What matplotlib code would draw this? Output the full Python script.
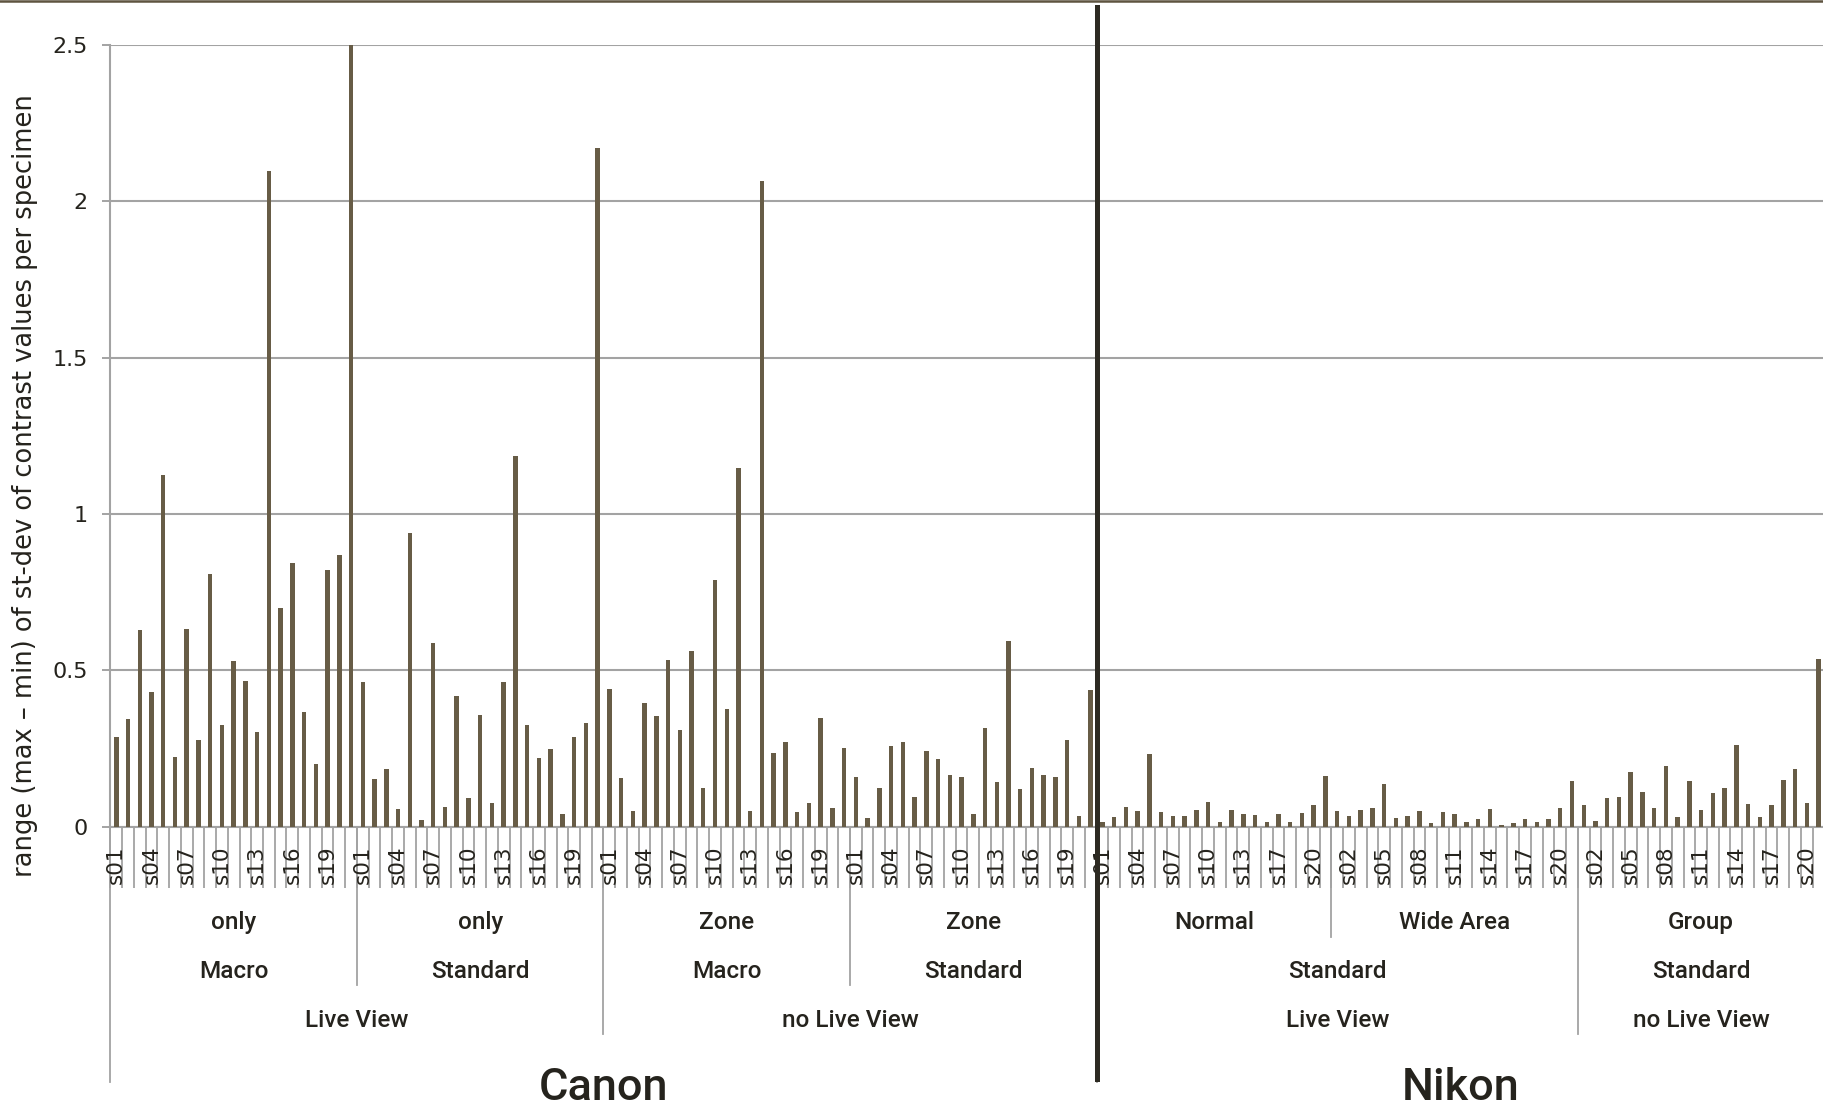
import matplotlib
matplotlib.use("Agg")
import matplotlib.pyplot as plt
from matplotlib.transforms import blended_transform_factory
from matplotlib.lines import Line2D
import numpy as np

# ---- data: range of st-dev of contrast values, per specimen ----
canon_lv_macro = [0.285, 0.344, 0.629, 0.432, 1.123, 0.221, 0.631, 0.276, 0.807, 0.325, 0.529,
                  0.467, 0.303, 2.097, 0.699, 0.844, 0.368, 0.199, 0.822, 0.869, 2.5]
canon_lv_standard = [0.463, 0.151, 0.184, 0.055, 0.939, 0.022, 0.588, 0.062, 0.419, 0.092, 0.357,
                     0.075, 0.463, 1.184, 0.325, 0.219, 0.248, 0.040, 0.287, 0.331, 2.171]
canon_zone_macro = [0.441, 0.156, 0.051, 0.395, 0.355, 0.533, 0.309, 0.561, 0.123, 0.787, 0.377,
                    1.147, 0.050, 2.066, 0.235, 0.272, 0.046, 0.075, 0.346, 0.059, 0.250]
canon_zone_standard = [0.158, 0.028, 0.125, 0.259, 0.270, 0.096, 0.243, 0.217, 0.165, 0.158, 0.039,
                       0.314, 0.142, 0.594, 0.119, 0.188, 0.165, 0.160, 0.278, 0.033, 0.438]
nikon_normal = [0.014, 0.030, 0.063, 0.050, 0.232, 0.048, 0.034, 0.034, 0.054, 0.079,
                0.014, 0.054, 0.039, 0.037, 0.014, 0.041, 0.015, 0.044, 0.069, 0.161]
nikon_wide = [0.049, 0.034, 0.052, 0.060, 0.135, 0.027, 0.034, 0.050, 0.012, 0.046, 0.039,
              0.014, 0.025, 0.055, 0.006, 0.011, 0.023, 0.015, 0.023, 0.059, 0.145]
nikon_group = [0.070, 0.019, 0.091, 0.094, 0.176, 0.111, 0.058, 0.193, 0.030, 0.145, 0.052,
               0.109, 0.122, 0.262, 0.071, 0.031, 0.070, 0.150, 0.183, 0.076, 0.535]

all_spec = ["s%02d" % i for i in range(1, 22)]
normal_spec = [s for s in all_spec if s != "s15"]

# (values, specimen names, brand, live view, mode, area)
GROUPS = [
    (canon_lv_macro, all_spec, "Canon", "Live View", "Macro", "only"),
    (canon_lv_standard, all_spec, "Canon", "Live View", "Standard", "only"),
    (canon_zone_macro, all_spec, "Canon", "no Live View", "Macro", "Zone"),
    (canon_zone_standard, all_spec, "Canon", "no Live View", "Standard", "Zone"),
    (nikon_normal, normal_spec, "Nikon", "Live View", "Standard", "Normal"),
    (nikon_wide, all_spec, "Nikon", "Live View", "Standard", "Wide Area"),
    (nikon_group, all_spec, "Nikon", "no Live View", "Standard", "Group"),
]

W, H = 1823, 1109
def fy(px): return 1 - px / H

BAR = "#675c46"; GRID = "#a3a3a3"; INK = "#25231d"

vals = []; names = []; starts = []
for g in GROUPS:
    starts.append(len(vals)); vals += g[0]; names += g[1]
starts.append(len(vals))
n = len(vals); x = np.arange(n)

fig = plt.figure(figsize=(W / 100, H / 100), dpi=100)
ax = fig.add_axes([110.4 / W, fy(826.6), 1714 / W, (826.6 - 44.8) / H])
ax.bar(x, vals, width=0.38, color=BAR, zorder=3)
ax.set_xlim(-0.5, n - 0.5); ax.set_ylim(0, 2.5)
ax.set_axisbelow(True)
ax.yaxis.grid(True, color=GRID, lw=1.5)
ax.set_yticks(np.arange(0, 2.51, 0.5))
ax.set_yticklabels(["0", "0.5", "1", "1.5", "2", "2.5"])
ax.tick_params(axis="y", length=5.8, width=1.4, color=GRID, pad=10.5, labelsize=16, labelcolor=INK)
ax.set_xticks(np.arange(-0.5, n, 1))
ax.tick_params(axis="x", length=44.2, width=1.3, color=GRID, labelbottom=False)
for s in ["top", "right"]: ax.spines[s].set_visible(False)
for s in ["left", "bottom"]: ax.spines[s].set_color(GRID); ax.spines[s].set_linewidth(1.5)

tr = blended_transform_factory(ax.transData, fig.transFigure)

# specimen labels, every third category
for i in range(0, n, 3):
    ax.text(i, fy(845), names[i], transform=tr, rotation=90, ha="center", va="top",
            fontsize=15.5, color=INK)

# group separators, longer where a higher level changes
level_bottom = {5: 937, 4: 985, 3: 1034, 2: 1082}
def sep(xb, bottom):
    ax.add_line(Line2D([xb, xb], [fy(826.6), fy(bottom)], transform=tr, color=GRID,
                       lw=1.3, clip_on=False))
sep(-0.5, 1082); sep(n - 0.5, 1082)
for k in range(1, len(GROUPS)):
    a, b = GROUPS[k - 1], GROUPS[k]
    for lev in (2, 3, 4, 5):
        if a[lev] != b[lev]:
            sep(starts[k] - 0.5, level_bottom[lev]); break

# multi-level category labels
rows = {5: 929, 4: 978, 3: 1027}
cat = dict(family=["Roboto", "DejaVu Sans"], fontweight="medium", color=INK)
for lev, base in rows.items():
    k = 0
    while k < len(GROUPS):
        j = k
        while j + 1 < len(GROUPS) and GROUPS[j + 1][2:lev + 1] == GROUPS[k][2:lev + 1]:
            j += 1
        xc = (starts[k] + starts[j + 1] - 1) / 2
        ax.text(xc, fy(base), GROUPS[k][lev], transform=tr, ha="center", va="baseline",
                fontsize=17.5, **cat)
        k = j + 1
for brand in ["Canon", "Nikon"]:
    ks = [k for k, g in enumerate(GROUPS) if g[2] == brand]
    xc = (starts[ks[0]] + starts[ks[-1] + 1] - 1) / 2
    ax.text(xc, fy(1100), brand, transform=tr, ha="center", va="baseline", fontsize=32.5, **cat)

# thick divider between the two cameras
ax.add_line(Line2D([starts[4] - 0.5] * 2, [fy(7), fy(1079)], transform=tr, color="#2d2a22",
                   lw=3.6, clip_on=False, zorder=5))

fig.add_artist(Line2D([0, 1], [fy(1), fy(1)], transform=fig.transFigure, color="#5e5440", lw=1.8))
fig.text(25 / W, fy(486), "range (max \u2013 min) of st-dev of contrast values per specimen",
         rotation=90, ha="center", va="center", fontsize=18.5, color=INK)

fig.savefig("out.png", dpi=100)
